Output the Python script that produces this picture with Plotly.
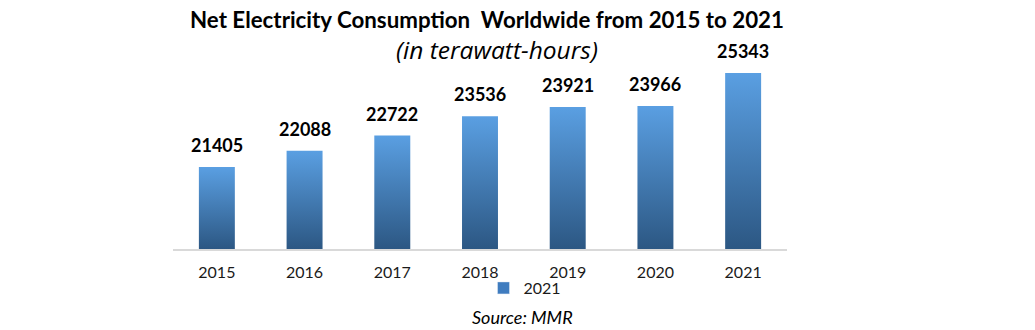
import plotly.graph_objects as go

# Net electricity consumption, terawatt-hours
years = ["2015", "2016", "2017", "2018", "2019", "2020", "2021"]
consumption = [21405, 22088, 22722, 23536, 23921, 23966, 25343]
series_name = "2021"

W, H = 1035, 330
M_L, M_R, M_T, M_B = 173, 248, 60, 81
Y_MIN, Y_MAX = 17970, 25888
BAR_HALF = 0.205
TOP_BLUE = "#5A9FE2"
BOTTOM_BLUE = "#2C5783"
FONT = "Lato"

plot_w = W - M_L - M_R
plot_h = H - M_T - M_B


def px_to_paper(px, py):
    """Convert page pixel position to paper coordinates."""
    return (px - M_L) / plot_w, (H - M_B - py) / plot_h


fig = go.Figure()

# Bars drawn as filled polygons so each carries a vertical gradient
for i, v in enumerate(consumption):
    fig.add_trace(go.Scatter(
        x=[i - BAR_HALF, i - BAR_HALF, i + BAR_HALF, i + BAR_HALF, i - BAR_HALF],
        y=[Y_MIN, v, v, Y_MIN, Y_MIN],
        mode="lines",
        fill="toself",
        fillgradient=dict(type="vertical",
                          colorscale=[[0, BOTTOM_BLUE], [1, TOP_BLUE]]),
        line=dict(width=0),
        hoverinfo="skip",
        showlegend=False,
    ))

# Legend entry for the series
fig.add_trace(go.Bar(
    x=[None], y=[None], name=series_name,
    marker=dict(color="#3F7CBF"),
    showlegend=True,
))

# Value labels above each bar
for i, v in enumerate(consumption):
    fig.add_annotation(
        x=i, y=v, text=f"<b>{v}</b>", showarrow=False,
        yanchor="middle", yshift=22,
        font=dict(family=FONT, size=18, color="#000000"),
    )

# Subtitle
sx, sy = px_to_paper(497, 49)
fig.add_annotation(
    x=sx, y=sy, xref="paper", yref="paper",
    text="<i>(in terawatt-hours)</i>", showarrow=False,
    xanchor="center", yanchor="middle",
    font=dict(family="Open Sans", size=24.5, color="#000000"),
)

# Source note
sx, sy = px_to_paper(522, 317)
fig.add_annotation(
    x=sx, y=sy, xref="paper", yref="paper",
    text="<i>Source: MMR</i>", showarrow=False,
    xanchor="center", yanchor="middle",
    font=dict(family=FONT, size=18, color="#000000"),
)

fig.update_layout(
    width=W, height=H,
    margin=dict(l=M_L, r=M_R, t=M_T, b=M_B, pad=0, autoexpand=False),
    paper_bgcolor="white", plot_bgcolor="white",
    title=dict(
        text="<b>Net Electricity Consumption\u00a0 Worldwide from 2015 to 2021</b>",
        x=487 / W, xanchor="center", xref="container",
        y=1 - 20 / H, yanchor="middle", yref="container",
        font=dict(family=FONT, size=22.3, color="#000000"),
    ),
    legend=dict(
        orientation="h",
        x=525 / W, xanchor="center", xref="container",
        y=1 - 288 / H, yanchor="middle", yref="container",
        font=dict(family=FONT, size=16, color="#1a1a1a"),
        itemwidth=30,
        bgcolor="rgba(0,0,0,0)",
    ),
    xaxis=dict(
        range=[-0.5, len(years) - 0.5],
        tickvals=list(range(len(years))), ticktext=years,
        ticks="outside", ticklen=8, tickcolor="rgba(0,0,0,0)",
        showgrid=False, zeroline=False,
        showline=True, linecolor="#D9D9D9", linewidth=1.5,
        tickfont=dict(family=FONT, size=16, color="#1a1a1a"),
        automargin=False,
        fixedrange=True,
    ),
    yaxis=dict(
        range=[Y_MIN, Y_MAX], visible=False,
        showgrid=False, zeroline=False, fixedrange=True,
    ),
    showlegend=True,
)

fig.write_html("out.html")
